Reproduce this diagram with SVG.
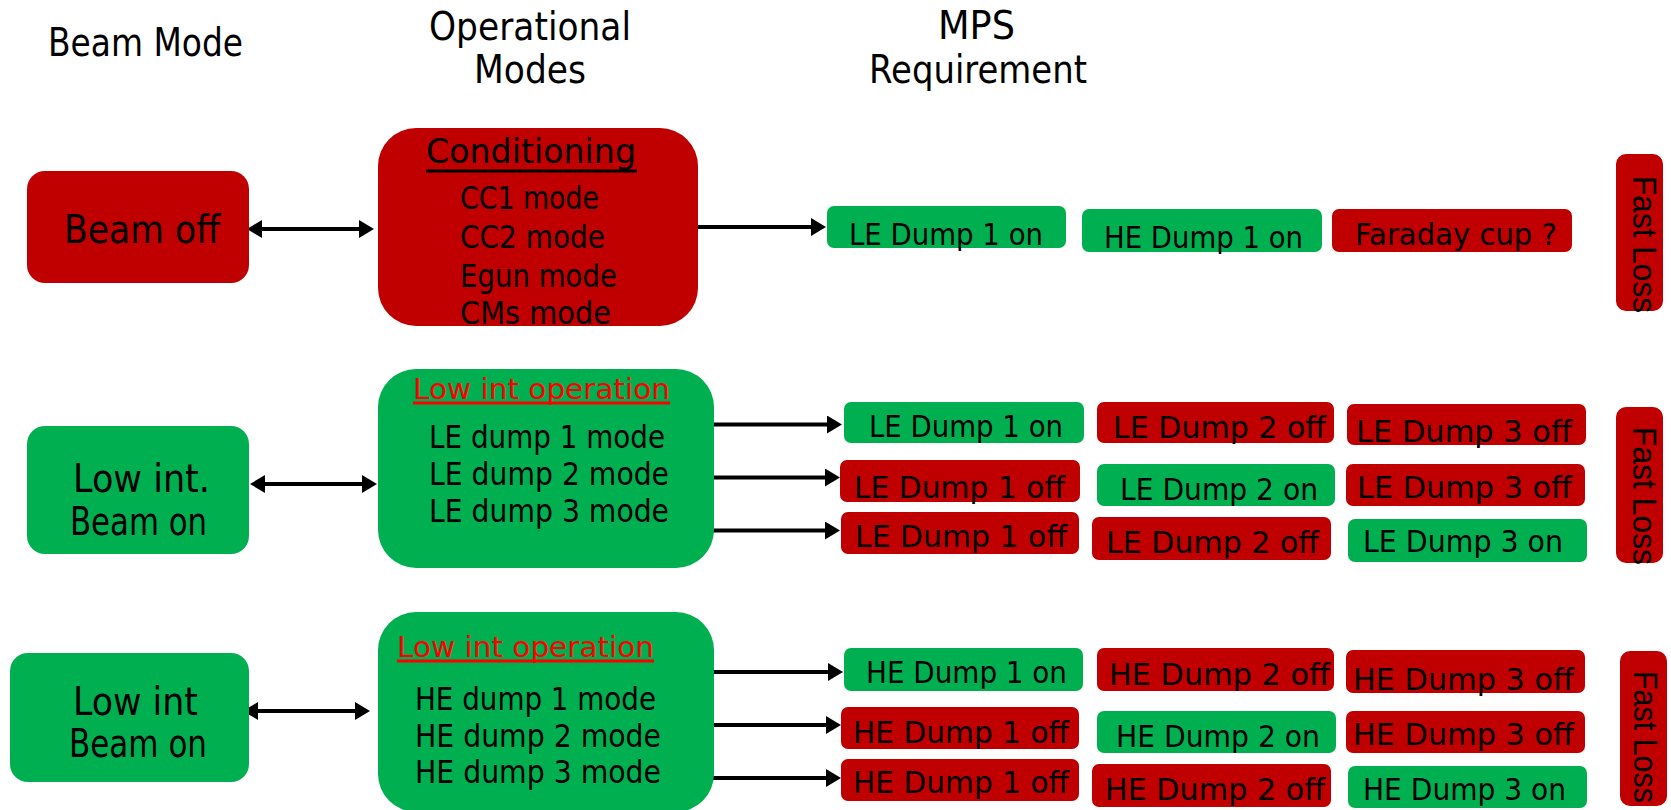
<svg xmlns="http://www.w3.org/2000/svg" width="1671" height="810" viewBox="0 0 1671 810">
<style>
text{font-family:"DejaVu Sans","Liberation Sans",sans-serif;fill:#000}
.red{fill:#C00000}
.grn{fill:#00B050}
.hdr{font-size:39px}
.big{font-size:39px}
.cond{font-size:33px}
.mode{font-size:32px}
.op{font-size:28px;fill:#FF0000}
.mps{font-size:31px}
.fl{font-size:34px;font-family:"Liberation Sans",sans-serif}
.conn line{stroke:#000;stroke-width:4}
.ul{stroke-width:3}
</style>
<defs>
<marker id="ah" viewBox="0 0 15 18" refX="5" refY="9" markerWidth="15" markerHeight="18" markerUnits="userSpaceOnUse" orient="auto-start-reverse">
<path d="M0,0 L15,9 L0,18 z" fill="#000"/>
</marker>
</defs>
<rect width="1671" height="810" fill="#fff"/>

<g id="headers">
<text class="hdr" x="48" y="56" textLength="195" lengthAdjust="spacingAndGlyphs">Beam Mode</text>
<text class="hdr" x="429" y="40" textLength="202" lengthAdjust="spacingAndGlyphs">Operational</text>
<text class="hdr" x="474" y="83" textLength="112" lengthAdjust="spacingAndGlyphs">Modes</text>
<text class="hdr" x="938" y="39" textLength="77" lengthAdjust="spacingAndGlyphs">MPS</text>
<text class="hdr" x="869" y="83" textLength="218" lengthAdjust="spacingAndGlyphs">Requirement</text>
</g>

<g class="conn" id="connectors">
<line x1="257" y1="229" x2="364" y2="229" marker-start="url(#ah)" marker-end="url(#ah)"/>
<line x1="698" y1="227" x2="816" y2="227" marker-end="url(#ah)"/>
<line x1="260" y1="484" x2="367" y2="484" marker-start="url(#ah)" marker-end="url(#ah)"/>
<line x1="713" y1="424.5" x2="832" y2="424.5" marker-end="url(#ah)"/>
<line x1="713" y1="477.5" x2="830" y2="477.5" marker-end="url(#ah)"/>
<line x1="713" y1="530.5" x2="830" y2="530.5" marker-end="url(#ah)"/>
<line x1="253" y1="711" x2="360" y2="711" marker-start="url(#ah)" marker-end="url(#ah)"/>
<line x1="713" y1="672" x2="833" y2="672" marker-end="url(#ah)"/>
<line x1="713" y1="725" x2="831" y2="725" marker-end="url(#ah)"/>
<line x1="713" y1="778" x2="831" y2="778" marker-end="url(#ah)"/>
</g>

<!-- Row 1 -->
<g id="beam-off">
<rect class="red" x="27" y="171" width="222" height="112" rx="18"/>
<text class="big" x="64" y="243" textLength="156" lengthAdjust="spacingAndGlyphs">Beam off</text>
</g>
<g id="conditioning">
<rect class="red" x="378" y="128" width="320" height="198" rx="38"/>
<text class="cond" x="426" y="163" textLength="210" lengthAdjust="spacingAndGlyphs">Conditioning</text>
<line x1="426" y1="171" x2="637" y2="171" stroke="#000" class="ul"/>
<text class="mode" x="460" y="209" textLength="139" lengthAdjust="spacingAndGlyphs">CC1 mode</text>
<text class="mode" x="460" y="248" textLength="145" lengthAdjust="spacingAndGlyphs">CC2 mode</text>
<text class="mode" x="460" y="287" textLength="157" lengthAdjust="spacingAndGlyphs">Egun mode</text>
<text class="mode" x="460" y="324" textLength="151" lengthAdjust="spacingAndGlyphs">CMs mode</text>
</g>
<g id="r1-le1on">
<rect class="grn" x="827" y="206" width="239" height="42" rx="7"/>
<text class="mps" x="849" y="245" textLength="194" lengthAdjust="spacingAndGlyphs">LE Dump 1 on</text>
</g>
<g id="r1-he1on">
<rect class="grn" x="1082" y="209" width="240" height="43" rx="7"/>
<text class="mps" x="1104" y="248" textLength="199" lengthAdjust="spacingAndGlyphs">HE Dump 1 on</text>
</g>
<g id="r1-faraday">
<rect class="red" x="1332" y="209" width="240" height="43" rx="7"/>
<text class="mps" x="1355" y="245" textLength="202" lengthAdjust="spacingAndGlyphs">Faraday cup ?</text>
</g>
<g id="r1-fastloss">
<rect class="red" x="1616" y="154" width="47" height="157" rx="10"/>
<text class="fl" transform="translate(1633,176) rotate(90)" textLength="137" lengthAdjust="spacingAndGlyphs">Fast Loss</text>
</g>

<!-- Row 2 -->
<g id="low-int-le">
<rect class="grn" x="27" y="426" width="222" height="128" rx="18"/>
<text class="big" x="73" y="492" textLength="137" lengthAdjust="spacingAndGlyphs">Low int.</text>
<text class="big" x="70" y="535" textLength="137" lengthAdjust="spacingAndGlyphs">Beam on</text>
</g>
<g id="le-operation">
<rect class="grn" x="378" y="369" width="336" height="199" rx="38"/>
<text class="op" x="413" y="399" textLength="257" lengthAdjust="spacingAndGlyphs">Low int operation</text>
<line x1="413" y1="403" x2="670" y2="403" stroke="#FF0000" class="ul"/>
<text class="mode" x="429" y="448" textLength="236" lengthAdjust="spacingAndGlyphs">LE dump 1 mode</text>
<text class="mode" x="429" y="485" textLength="240" lengthAdjust="spacingAndGlyphs">LE dump 2 mode</text>
<text class="mode" x="429" y="522" textLength="240" lengthAdjust="spacingAndGlyphs">LE dump 3 mode</text>
</g>
<g id="r2a-1"><rect class="grn" x="844" y="402" width="240" height="41" rx="7"/>
<text class="mps" x="869" y="437" textLength="194" lengthAdjust="spacingAndGlyphs">LE Dump 1 on</text></g>
<g id="r2a-2"><rect class="red" x="1097" y="402" width="237" height="41" rx="7"/>
<text class="mps" x="1113" y="438" textLength="213" lengthAdjust="spacingAndGlyphs">LE Dump 2 off</text></g>
<g id="r2a-3"><rect class="red" x="1347" y="404" width="239" height="41" rx="7"/>
<text class="mps" x="1356" y="442" textLength="216" lengthAdjust="spacingAndGlyphs">LE Dump 3 off</text></g>
<g id="r2b-1"><rect class="red" x="840" y="460" width="240" height="42" rx="7"/>
<text class="mps" x="854" y="498" textLength="211" lengthAdjust="spacingAndGlyphs">LE Dump 1 off</text></g>
<g id="r2b-2"><rect class="grn" x="1097" y="464" width="238" height="42" rx="7"/>
<text class="mps" x="1120" y="500" textLength="198" lengthAdjust="spacingAndGlyphs">LE Dump 2 on</text></g>
<g id="r2b-3"><rect class="red" x="1346" y="464" width="239" height="42" rx="7"/>
<text class="mps" x="1357" y="498" textLength="215" lengthAdjust="spacingAndGlyphs">LE Dump 3 off</text></g>
<g id="r2c-1"><rect class="red" x="841" y="512" width="238" height="42" rx="7"/>
<text class="mps" x="855" y="547" textLength="212" lengthAdjust="spacingAndGlyphs">LE Dump 1 off</text></g>
<g id="r2c-2"><rect class="red" x="1092" y="517" width="239" height="43" rx="7"/>
<text class="mps" x="1106" y="553" textLength="213" lengthAdjust="spacingAndGlyphs">LE Dump 2 off</text></g>
<g id="r2c-3"><rect class="grn" x="1348" y="519" width="239" height="43" rx="7"/>
<text class="mps" x="1363" y="552" textLength="200" lengthAdjust="spacingAndGlyphs">LE Dump 3 on</text></g>
<g id="r2-fastloss">
<rect class="red" x="1616" y="407" width="47" height="156" rx="10"/>
<text class="fl" transform="translate(1633,427) rotate(90)" textLength="138" lengthAdjust="spacingAndGlyphs">Fast Loss</text>
</g>

<!-- Row 3 -->
<g id="low-int-he">
<rect class="grn" x="10" y="653" width="239" height="129" rx="18"/>
<text class="big" x="73" y="715" textLength="125" lengthAdjust="spacingAndGlyphs">Low int</text>
<text class="big" x="69" y="757" textLength="138" lengthAdjust="spacingAndGlyphs">Beam on</text>
</g>
<g id="he-operation">
<rect class="grn" x="378" y="612" width="336" height="200" rx="38"/>
<text class="op" x="397" y="657" textLength="257" lengthAdjust="spacingAndGlyphs">Low int operation</text>
<line x1="397" y1="661" x2="654" y2="661" stroke="#FF0000" class="ul"/>
<text class="mode" x="415" y="710" textLength="241" lengthAdjust="spacingAndGlyphs">HE dump 1 mode</text>
<text class="mode" x="415" y="747" textLength="246" lengthAdjust="spacingAndGlyphs">HE dump 2 mode</text>
<text class="mode" x="415" y="783" textLength="246" lengthAdjust="spacingAndGlyphs">HE dump 3 mode</text>
</g>
<g id="r3a-1"><rect class="grn" x="844" y="648" width="239" height="43" rx="7"/>
<text class="mps" x="866" y="683" textLength="201" lengthAdjust="spacingAndGlyphs">HE Dump 1 on</text></g>
<g id="r3a-2"><rect class="red" x="1097" y="648" width="237" height="43" rx="7"/>
<text class="mps" x="1109" y="685" textLength="221" lengthAdjust="spacingAndGlyphs">HE Dump 2 off</text></g>
<g id="r3a-3"><rect class="red" x="1346" y="650" width="239" height="43" rx="7"/>
<text class="mps" x="1353" y="690" textLength="221" lengthAdjust="spacingAndGlyphs">HE Dump 3 off</text></g>
<g id="r3b-1"><rect class="red" x="841" y="707" width="238" height="42" rx="7"/>
<text class="mps" x="853" y="743" textLength="216" lengthAdjust="spacingAndGlyphs">HE Dump 1 off</text></g>
<g id="r3b-2"><rect class="grn" x="1097" y="711" width="239" height="42" rx="7"/>
<text class="mps" x="1116" y="747" textLength="204" lengthAdjust="spacingAndGlyphs">HE Dump 2 on</text></g>
<g id="r3b-3"><rect class="red" x="1346" y="711" width="239" height="42" rx="7"/>
<text class="mps" x="1353" y="745" textLength="221" lengthAdjust="spacingAndGlyphs">HE Dump 3 off</text></g>
<g id="r3c-1"><rect class="red" x="841" y="759" width="238" height="42" rx="7"/>
<text class="mps" x="853" y="793" textLength="216" lengthAdjust="spacingAndGlyphs">HE Dump 1 off</text></g>
<g id="r3c-2"><rect class="red" x="1092" y="764" width="239" height="43" rx="7"/>
<text class="mps" x="1105" y="800" textLength="220" lengthAdjust="spacingAndGlyphs">HE Dump 2 off</text></g>
<g id="r3c-3"><rect class="grn" x="1348" y="766" width="239" height="42" rx="7"/>
<text class="mps" x="1363" y="800" textLength="203" lengthAdjust="spacingAndGlyphs">HE Dump 3 on</text></g>
<g id="r3-fastloss">
<rect class="red" x="1620" y="651" width="47" height="155" rx="10"/>
<text class="fl" transform="translate(1634,671) rotate(90)" textLength="132" lengthAdjust="spacingAndGlyphs">Fast Loss</text>
</g>
</svg>
